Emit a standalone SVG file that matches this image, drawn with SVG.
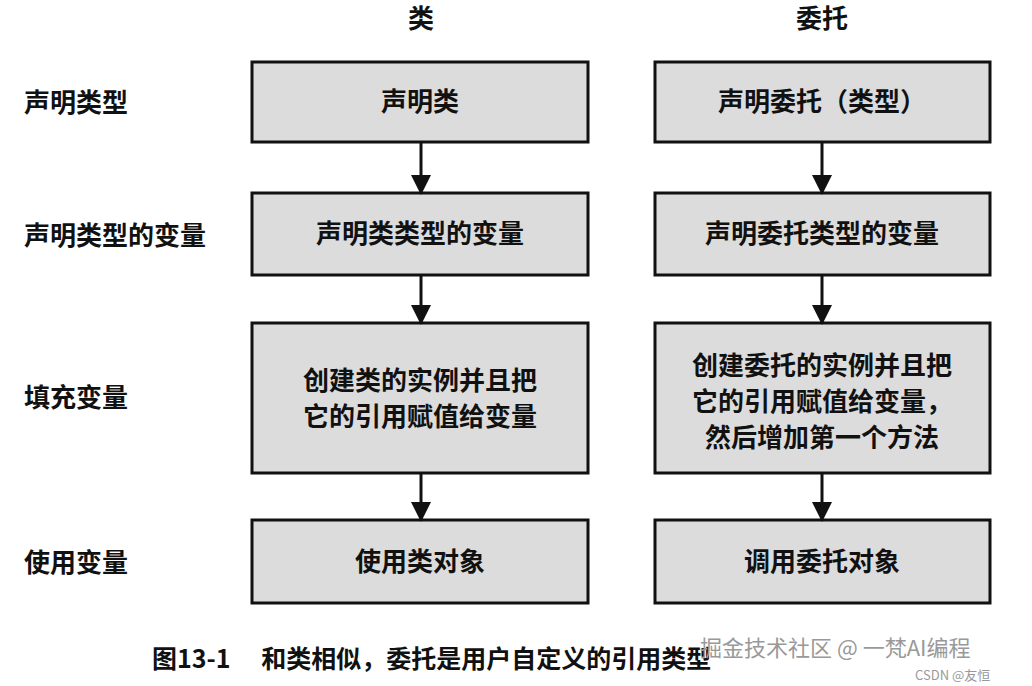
<svg xmlns="http://www.w3.org/2000/svg" width="1032" height="686" viewBox="0 0 1032 686">
<style>
.box{fill:#dcdcdc;stroke:#111;stroke-width:3}
text{font-family:"Noto Sans CJK SC","Noto Sans",sans-serif;fill:#111}
.t{font-size:26px;font-weight:bold;text-anchor:middle}
.h{font-size:26px;font-weight:bold;text-anchor:middle}
.l{font-size:26px;font-weight:bold}
.c{stroke:#111;stroke-width:3;fill:none}
</style>
<defs>
<marker id="b" viewBox="0 0 20 20" markerWidth="20" markerHeight="20" refX="18" refY="10" orient="auto" markerUnits="userSpaceOnUse"><path d="M0,0 L20,10 L0,20 z" fill="#111"/></marker></defs>
<rect width="1032" height="686" fill="#fff"/>
<text class="h" x="421" y="28">类</text>
<text class="h" x="822" y="28">委托</text>
<g id="labels">
<text class="l" x="24" y="112">声明类型</text>
<text class="l" x="24" y="245">声明类型的变量</text>
<text class="l" x="24" y="407">填充变量</text>
<text class="l" x="24" y="572">使用变量</text>
</g>
<g id="L1"><rect class="box" x="252" y="62" width="336" height="80"/><text class="t" x="420" y="111">声明类</text></g>
<g id="L2"><rect class="box" x="252" y="193" width="336" height="82"/><text class="t" x="420" y="243">声明类类型的变量</text></g>
<g id="L3"><rect class="box" x="252" y="323" width="336" height="150"/><text class="t" x="420" y="390">创建类的实例并且把</text><text class="t" x="420" y="426">它的引用赋值给变量</text></g>
<g id="L4"><rect class="box" x="252" y="520" width="336" height="83"/><text class="t" x="420" y="571">使用类对象</text></g>
<g id="R1"><rect class="box" x="655" y="62" width="335" height="80"/><text class="t" x="822" y="111">声明委托（类型）</text></g>
<g id="R2"><rect class="box" x="655" y="193" width="335" height="82"/><text class="t" x="822" y="243">声明委托类型的变量</text></g>
<g id="R3"><rect class="box" x="655" y="323" width="335" height="150"/><text class="t" x="822" y="375">创建委托的实例并且把</text><text class="t" x="822" y="411">它的引用赋值给变量，</text><text class="t" x="822" y="447">然后增加第一个方法</text></g>
<g id="R4"><rect class="box" x="655" y="520" width="335" height="83"/><text class="t" x="822" y="571">调用委托对象</text></g>
<g id="connectors">
<line class="c" x1="421" y1="142" x2="421" y2="193" marker-end="url(#b)"/>
<line class="c" x1="421" y1="275" x2="421" y2="323" marker-end="url(#b)"/>
<line class="c" x1="421" y1="473" x2="421" y2="520" marker-end="url(#b)"/>
<line class="c" x1="822" y1="142" x2="822" y2="193" marker-end="url(#b)"/>
<line class="c" x1="822" y1="275" x2="822" y2="323" marker-end="url(#b)"/>
<line class="c" x1="822" y1="473" x2="822" y2="520" marker-end="url(#b)"/>
</g>
<text x="152" y="668" style="font-size:25px;font-weight:bold">图13-1　 和类相似，委托是用户自定义的引用类型</text>
<text x="700" y="656" style="font-size:22px;fill:#999">掘金技术社区 @ 一梵AI编程</text>
<text x="915" y="680" style="font-size:13px;fill:#999">CSDN @友恒</text>
</svg>
